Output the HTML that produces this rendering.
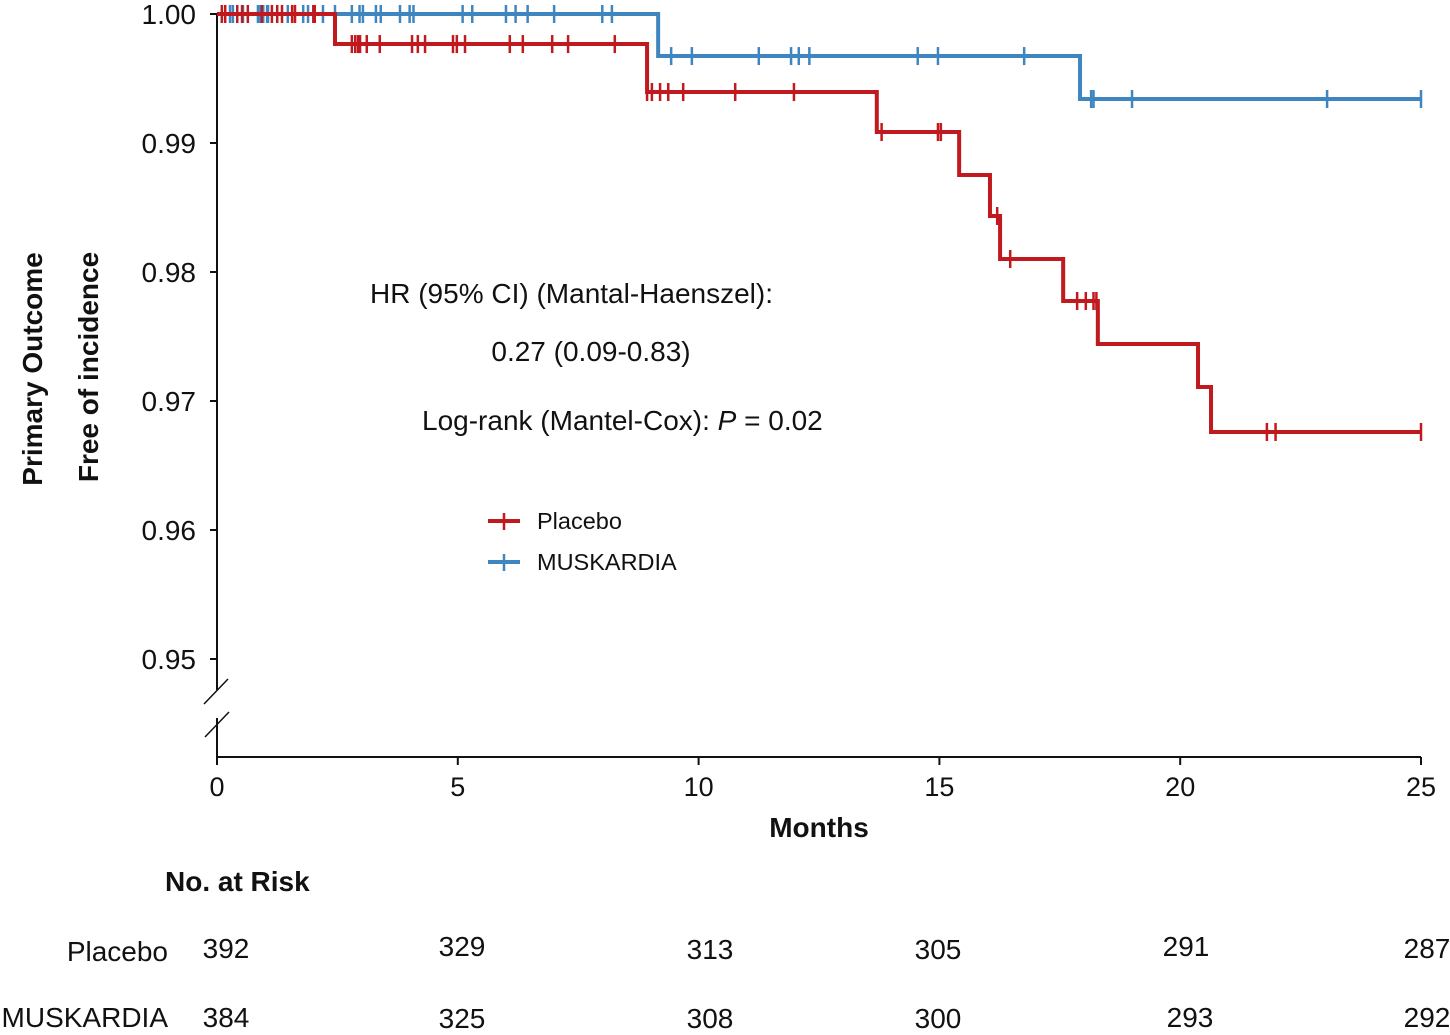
<!DOCTYPE html>
<html><head><meta charset="utf-8"><style>
body{margin:0;background:#fff;}
svg text{font-family:"Liberation Sans",Arial,sans-serif;}
</style></head><body>
<svg id="chart" width="1450" height="1030" xmlns="http://www.w3.org/2000/svg">
<g id="axes"></g>
<g id="series"></g>
<g font-size="28" fill="#111">
<text x="370" y="303" textLength="403" lengthAdjust="spacingAndGlyphs">HR (95% CI)  (Mantal-Haenszel):</text>
<text x="591" y="361" text-anchor="middle">0.27 (0.09-0.83)</text>
<text x="422" y="430">Log-rank (Mantel-Cox): <tspan font-style="italic">P</tspan> = 0.02</text>
</g>
<g font-size="23.5" fill="#111">
<g><line x1="488" y1="521" x2="520" y2="521" stroke="#c0191e" stroke-width="4"/><line x1="504" y1="513" x2="504" y2="530" stroke="#c0191e" stroke-width="2.5"/><text x="537" y="529">Placebo</text></g>
<g><line x1="488" y1="562" x2="520" y2="562" stroke="#3f86c0" stroke-width="4"/><line x1="504" y1="554" x2="504" y2="571" stroke="#3f86c0" stroke-width="2.5"/><text x="537" y="570">MUSKARDIA</text></g>
</g>
<g font-size="28" font-weight="bold" fill="#111">
<text transform="translate(42,369) rotate(-90)" text-anchor="middle">Primary Outcome</text>
<text transform="translate(98,367) rotate(-90)" text-anchor="middle">Free of incidence</text>
</g>
<text x="819" y="837" font-size="28" font-weight="bold" text-anchor="middle" fill="#111">Months</text>
<g id="risk" font-size="28" fill="#111">
<text x="165" y="891" font-weight="bold">No. at Risk</text>
<text x="168" y="961" text-anchor="end">Placebo</text>
<text x="168" y="1027" text-anchor="end">MUSKARDIA</text>
</g>
</svg>
<script>
const xTicks=[0,5,10,15,20,25];
const yTicks=[0.95,0.96,0.97,0.98,0.99,1.00];
const placeboStepT=[0,2.45,8.93,13.70,15.41,16.05,16.26,17.57,18.29,20.37,20.64,25];
const placeboStepS=[1.0,0.99767,0.99395,0.99085,0.98752,0.98434,0.98101,0.97775,0.97442,0.97109,0.96760,0.96760];
const muskStepT=[0,9.16,17.92,25];
const muskStepS=[1.0,0.99674,0.99341,0.99341];
const placeboCensor=[0.1,0.17,0.42,0.52,0.64,0.93,1.14,1.25,1.35,1.56,1.62,2.0,2.03,2.8,2.87,2.93,2.97,3.11,3.38,4.05,4.17,4.32,4.9,4.98,5.15,6.08,6.35,6.96,7.29,8.26,8.93,9.03,9.2,9.37,9.68,10.76,11.98,13.8,14.97,15.03,16.2,16.47,17.86,18.04,18.2,18.26,21.8,21.98,25];
const muskCensor=[0.27,0.33,0.54,0.85,0.9,0.96,1.04,1.06,1.47,1.79,1.89,2.2,2.45,2.8,2.96,3.03,3.3,3.4,3.8,4.0,4.08,5.1,5.3,6.0,6.2,6.45,7.0,8.0,8.2,9.43,9.86,11.25,11.92,12.08,12.3,14.55,14.97,16.76,18.15,18.2,19.0,23.05,25];
const riskTimes=[0,5,10,15,20,25];
const riskPlacebo=[392,329,313,305,291,287];
const riskMusk=[384,325,308,300,293,292];
const NS='http://www.w3.org/2000/svg';
const X=t=>217+t*48.16, Y=s=>14+(1-s)*12900;
function mk(tag,attrs,parent){const e=document.createElementNS(NS,tag);for(const k in attrs)e.setAttribute(k,attrs[k]);parent.appendChild(e);return e;}
const ax=document.getElementById('axes');
let e=mk('path',{d:'M217 14V690M217 718V757H1421',fill:'none',stroke:'#111','stroke-width':2},ax);


e=mk('path',{d:'M204 704L228 679M205 737L229 712',fill:'none',stroke:'#111','stroke-width':1.5},ax);


xTicks.forEach(t=>{
 let l=mk('line',{x1:X(t),x2:X(t),y1:757,y2:765,stroke:'#111','stroke-width':2},ax);
 
 
 let tx=mk('text',{x:X(t),y:796,'font-size':27,'text-anchor':'middle',fill:'#111'},ax);tx.textContent=t;
 
 
});
yTicks.forEach(s=>{
 let l=mk('line',{x1:210,x2:217,y1:Y(s),y2:Y(s),stroke:'#111','stroke-width':2},ax);
 
 
 let tx=mk('text',{x:196,y:Y(s)+10,'font-size':28,'text-anchor':'end',fill:'#111'},ax);tx.textContent=s.toFixed(2);
 
 
});
const sg=document.getElementById('series');
function survAt(T,S,t){let v=S[0];for(let i=0;i<T.length;i++){if(T[i]<=t)v=S[i];}return v;}
function draw(T,S,C,color,name){
 let d='M'+X(T[0])+' '+Y(S[0]);
 for(let i=1;i<T.length;i++){d+='H'+X(T[i])+'V'+Y(S[i]);}
 let p=mk('path',{d:d,fill:'none',stroke:color,'stroke-width':4},sg);
 
 
 C.forEach(t=>{
  const s=survAt(T,S,t);
  let l=mk('line',{x1:X(t),x2:X(t),y1:Y(s)-9,y2:Y(s)+9,stroke:color,'stroke-width':2.5},sg);
  
  
 });
}
draw(muskStepT,muskStepS,muskCensor,'#3f86c0','muskardia');
draw(placeboStepT,placeboStepS,placeboCensor,'#c0191e','placebo');
const rk=document.getElementById('risk');
const colX=[226,462,710,938,1186,1427];
riskTimes.forEach((t,i)=>{
 let a=mk('text',{x:colX[i],y:[958,956,959,959,956,958][i],'text-anchor':'middle'},rk);a.textContent=riskPlacebo[i];
 
 
 let b=mk('text',{x:colX[i]+(i==4?4:0),y:[1027,1028,1028,1028,1027,1027][i],'text-anchor':'middle'},rk);b.textContent=riskMusk[i];
 
 
});
</script>
</body></html>
